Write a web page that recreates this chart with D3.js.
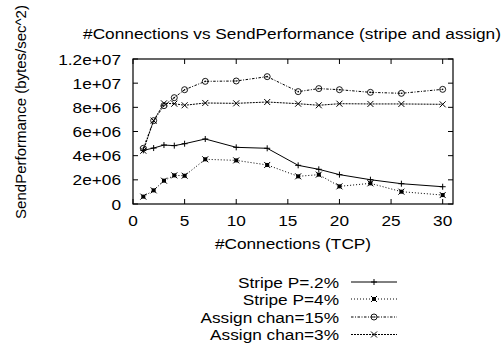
<!DOCTYPE html>
<html>
<head>
<meta charset="utf-8">
<script src="https://cdn.jsdelivr.net/npm/d3@7/dist/d3.min.js"></script>
<style>
  html, body { margin: 0; padding: 0; background: #fff; }
  svg text { font-family: "Liberation Sans", Arial, Helvetica, sans-serif; fill: #000; }
</style>
</head>
<body>
<svg id="chart" width="504" height="348"></svg>
<script>
// Number of TCP connections
const connections = [1, 2, 3, 4, 5, 7, 10, 13, 16, 18, 20, 23, 26, 30];

// Send performance (bytes/sec^2) per configuration
const stripeP02 = [4.44e6, 4.63e6, 4.88e6, 4.83e6, 4.99e6, 5.38e6, 4.69e6, 4.61e6, 3.2e6, 2.87e6, 2.43e6, 2.01e6, 1.68e6, 1.43e6];
const stripeP4 = [0.61e6, 1.13e6, 1.93e6, 2.37e6, 2.34e6, 3.7e6, 3.61e6, 3.23e6, 2.29e6, 2.43e6, 1.46e6, 1.71e6, 1.02e6, 0.74e6];
const assignChan15 = [4.61e6, 6.9e6, 8.14e6, 8.8e6, 9.46e6, 10.15e6, 10.18e6, 10.54e6, 9.3e6, 9.55e6, 9.46e6, 9.24e6, 9.16e6, 9.49e6];
const assignChan3 = [4.41e6, 6.9e6, 8.33e6, 8.3e6, 8.17e6, 8.36e6, 8.33e6, 8.44e6, 8.3e6, 8.17e6, 8.3e6, 8.28e6, 8.28e6, 8.25e6];

const seriesNames = ["Stripe P=.2%", "Stripe P=4%", "Assign chan=15%", "Assign chan=3%"];
const xTicks = [0, 5, 10, 15, 20, 25, 30];
const yTicks = [0, 2e6, 4e6, 6e6, 8e6, 1e7, 1.2e7];
const yTickLabels = ["0", "2e+06", "4e+06", "6e+06", "8e+06", "1e+07", "1.2e+07"];

const titleText = "#Connections vs SendPerformance (stripe and assign)";
const xLabel = "#Connections (TCP)";
const yLabel = "SendPerformance (bytes/sec^2)";

// Plot frame
const plotLeft = 133, plotRight = 453, plotTop = 59, plotBottom = 204;
const x = d3.scaleLinear().domain([0, 31]).range([plotLeft, plotRight]);
const y = d3.scaleLinear().domain([0, 1.2e7]).range([plotBottom, plotTop]);

const svg = d3.select("#chart");
const FS = 15;
const WIDEN = 1.15; // horizontal text is set slightly wide

// Horizontal text, widened around its anchor point
function hText(px, py, str, anchor) {
  return svg.append("text")
    .attr("transform", `translate(${px},${py}) scale(${WIDEN},1)`)
    .attr("text-anchor", anchor)
    .attr("font-size", FS)
    .text(str);
}

// Line styles and point glyphs per series
const styles = [
  { dash: null, marker: "plus" },
  { dash: "1,2", marker: "star" },
  { dash: "2.5,1.5,1,1.5", marker: "circle" },
  { dash: "2,1", marker: "cross" }
];
const data = [stripeP02, stripeP4, assignChan15, assignChan3];

function drawMarker(g, type, cx, cy) {
  const s = 3;
  if (type === "plus") {
    g.append("path").attr("d", `M${cx - s},${cy}H${cx + s}M${cx},${cy - s}V${cy + s}`)
      .attr("stroke", "#000").attr("stroke-width", 1).attr("fill", "none");
  } else if (type === "cross") {
    g.append("path").attr("d", `M${cx - s},${cy - s}L${cx + s},${cy + s}M${cx - s},${cy + s}L${cx + s},${cy - s}`)
      .attr("stroke", "#000").attr("stroke-width", 1).attr("fill", "none");
  } else if (type === "star") {
    g.append("rect").attr("x", cx - 2).attr("y", cy - 2).attr("width", 4).attr("height", 4).attr("fill", "#000");
    g.append("path").attr("d", `M${cx - s},${cy - s}L${cx + s},${cy + s}M${cx - s},${cy + s}L${cx + s},${cy - s}`)
      .attr("stroke", "#000").attr("stroke-width", 1).attr("fill", "none");
  } else if (type === "circle") {
    g.append("circle").attr("cx", cx).attr("cy", cy).attr("r", 3)
      .attr("stroke", "#000").attr("stroke-width", 0.9).attr("fill", "none");
    g.append("circle").attr("cx", cx).attr("cy", cy).attr("r", 0.8).attr("fill", "#000");
  }
}

// Frame and mirrored inward ticks
const axes = svg.append("g");
axes.append("rect").attr("x", plotLeft).attr("y", plotTop)
  .attr("width", plotRight - plotLeft).attr("height", plotBottom - plotTop)
  .attr("fill", "none").attr("stroke", "#000").attr("stroke-width", 1.2);

const tl = 5;
xTicks.forEach(t => {
  const px = x(t);
  axes.append("line").attr("x1", px).attr("x2", px).attr("y1", plotBottom).attr("y2", plotBottom - tl).attr("stroke", "#000");
  axes.append("line").attr("x1", px).attr("x2", px).attr("y1", plotTop).attr("y2", plotTop + tl).attr("stroke", "#000");
  hText(px, 226, String(t), "middle");
});
yTicks.forEach((t, i) => {
  const py = y(t);
  axes.append("line").attr("x1", plotLeft).attr("x2", plotLeft + tl).attr("y1", py).attr("y2", py).attr("stroke", "#000");
  axes.append("line").attr("x1", plotRight).attr("x2", plotRight - tl).attr("y1", py).attr("y2", py).attr("stroke", "#000");
  hText(121, py + 5.5, yTickLabels[i], "end");
});

// Titles
hText(292, 39, titleText, "middle");
hText(293, 249, xLabel, "middle");
svg.append("text").attr("transform", "translate(26,112) rotate(-90)").attr("text-anchor", "middle")
  .attr("font-size", FS).text(yLabel);

// Series
const line = d3.line().x((d, i) => x(connections[i])).y(d => y(d));
data.forEach((vals, k) => {
  const g = svg.append("g");
  g.append("path").datum(vals).attr("d", line)
    .attr("fill", "none").attr("stroke", "#000").attr("stroke-width", 1)
    .attr("stroke-dasharray", styles[k].dash);
  vals.forEach((v, i) => drawMarker(g, styles[k].marker, x(connections[i]), y(v)));
});

// Legend
const legY = [282, 299, 317, 334.5];
seriesNames.forEach((name, k) => {
  const g = svg.append("g");
  hText(339, legY[k] + 5.5, name, "end");
  g.append("line").attr("x1", 351).attr("x2", 397).attr("y1", legY[k]).attr("y2", legY[k])
    .attr("stroke", "#000").attr("stroke-width", 1).attr("stroke-dasharray", styles[k].dash);
  drawMarker(g, styles[k].marker, 374, legY[k]);
});
</script>
</body>
</html>
